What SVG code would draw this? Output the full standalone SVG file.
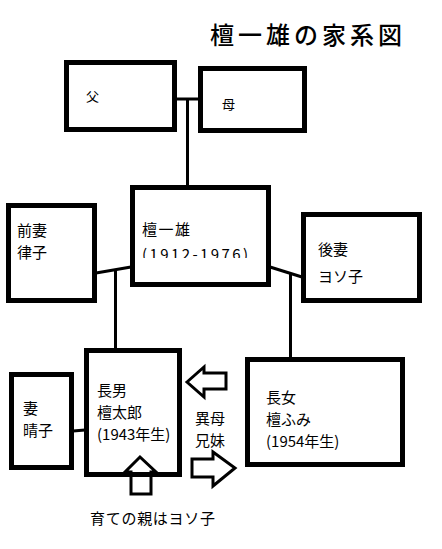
<svg xmlns="http://www.w3.org/2000/svg" width="442" height="549" viewBox="0 0 442 549">
<style>
.box{fill:#fff;stroke:#000;stroke-width:5}
.ln{stroke:#000;stroke-width:3;fill:none}
.arr{fill:none;stroke:#000;stroke-width:3;stroke-linejoin:miter}
text{font-family:"Noto Sans CJK JP","Noto Sans CJK SC",sans-serif;fill:#000}
.t{font-size:15px}
.s{font-size:13px}
</style>
<defs>
<clipPath id="cut"><rect x="135" y="240" width="130" height="18"/></clipPath>
</defs>
<rect width="442" height="549" fill="#fff"/>
<text x="210" y="44" font-size="24" font-weight="500" textLength="192" lengthAdjust="spacing">檀一雄の家系図</text>
<g id="connectors">
<polyline class="ln" points="176,99 198,99"/>
<line class="ln" x1="187.5" y1="99" x2="187.5" y2="186"/>
<line class="ln" x1="96" y1="273" x2="131" y2="267"/>
<line class="ln" x1="115.5" y1="270" x2="115.5" y2="349"/>
<line class="ln" x1="270" y1="267" x2="302" y2="277"/>
<line class="ln" x1="290.5" y1="274" x2="290.5" y2="358"/>
<line class="ln" x1="73" y1="431" x2="85" y2="430"/>
</g>
<g id="father">
<rect class="box" x="66.5" y="62.5" width="108" height="67"/>
<text class="s" x="86" y="101">父</text>
</g>
<g id="mother">
<rect class="box" x="200.5" y="68.5" width="104" height="62"/>
<text class="s" x="222" y="109">母</text>
</g>
<g id="ichio">
<rect class="box" x="132.5" y="187.5" width="136" height="97"/>
<text class="t" x="142" y="235" textLength="48" lengthAdjust="spacing">檀一雄</text>
<text class="t" x="142" y="260" textLength="106" lengthAdjust="spacing" clip-path="url(#cut)">(1912-1976)</text>
</g>
<g id="zensai">
<rect class="box" x="8.5" y="205.5" width="86" height="95"/>
<text class="t" x="17" y="236">前妻<tspan x="17" dy="22">律子</tspan></text>
</g>
<g id="gosai">
<rect class="box" x="303.5" y="214.5" width="116" height="86"/>
<text class="t" x="318" y="255">後妻<tspan x="318" dy="27">ヨソ子</tspan></text>
</g>
<g id="tsuma">
<rect class="box" x="11.5" y="374.5" width="60" height="93"/>
<text class="t" x="23" y="414">妻<tspan x="23" dy="22">晴子</tspan></text>
</g>
<g id="chonan">
<rect class="box" x="86.5" y="350.5" width="93" height="124"/>
<text class="t" x="97" y="396">長男<tspan x="97" dy="22">檀太郎</tspan><tspan x="97" dy="22">(1943年生)</tspan></text>
</g>
<g id="chojo">
<rect class="box" x="247.5" y="359.5" width="155" height="105"/>
<text class="t" x="266" y="403">長女<tspan x="266" dy="22">檀ふみ</tspan><tspan x="266" dy="22">(1954年生)</tspan></text>
</g>
<g id="siblings">
<polygon class="arr" points="187,382 204,367 204,373 226,373 226,389 204,389 204,397"/>
<polygon class="arr" points="192,459 213,459 213,452 235,468 213,486 213,477 192,477"/>
<text class="t" x="195" y="424">異母<tspan x="195" dy="22">兄妹</tspan></text>
</g>
<g id="foster">
<polygon class="arr" points="140,457 156,472 151,472 151,494 131,494 131,472 125,472"/>
<text class="t" x="90" y="524" textLength="125" lengthAdjust="spacing">育ての親はヨソ子</text>
</g>
</svg>
